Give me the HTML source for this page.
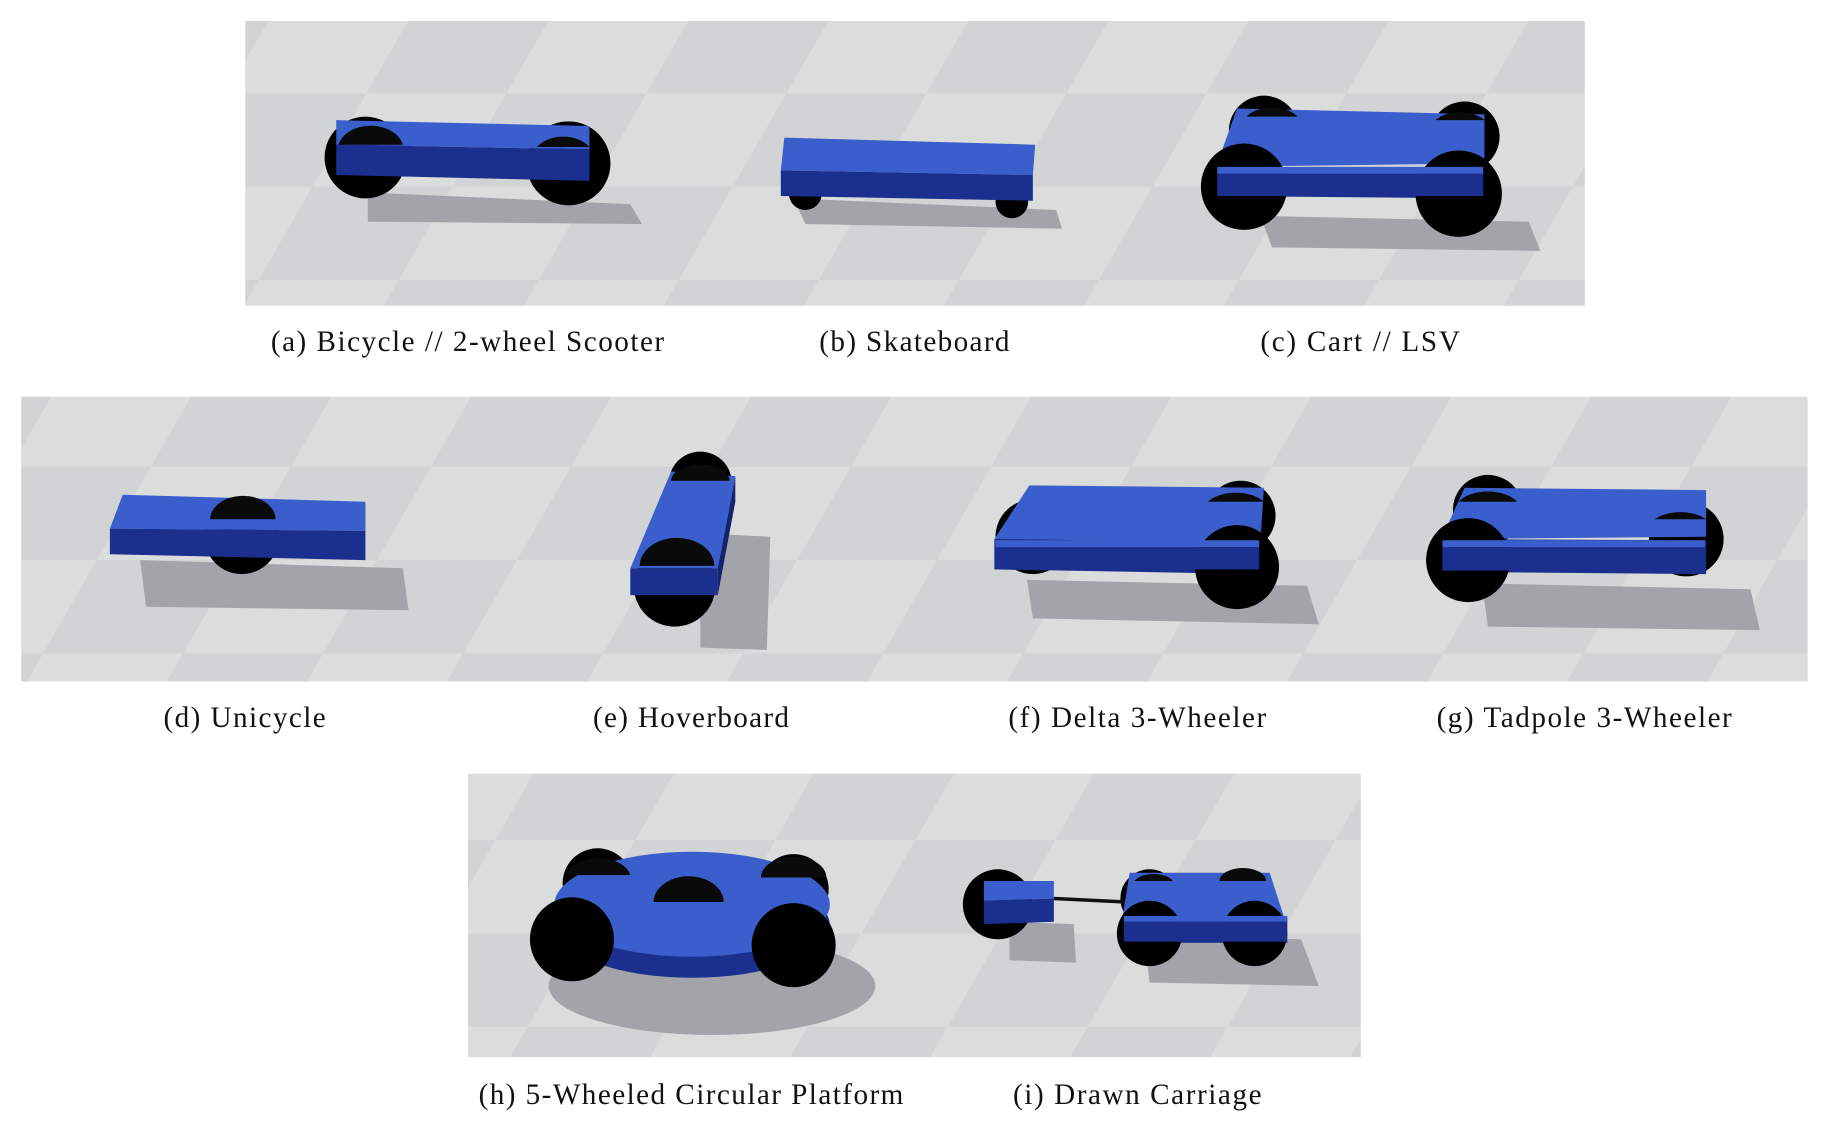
<!DOCTYPE html>
<html><head><meta charset="utf-8"><style>
html,body{margin:0;padding:0;background:#fff;}
svg{display:block}
text{font-family:"Liberation Serif",serif;font-size:25px;fill:#111}
</style></head><body>
<svg width="1830" height="1126" viewBox="0 0 1568 965" xmlns="http://www.w3.org/2000/svg">
<defs>
<pattern id="chk" width="240" height="160" patternUnits="userSpaceOnUse" patternTransform="skewX(-30)">
<rect width="240" height="160" fill="#d2d3d4"/>
<rect width="120" height="80" fill="#dbdcdc"/>
<rect x="120" y="80" width="120" height="80" fill="#dbdcdc"/>
</pattern>
</defs>
<rect x="210" y="18" width="1148" height="244" fill="url(#chk)"/>
<rect x="18" y="340" width="1531" height="244" fill="url(#chk)"/>
<rect x="401" y="663" width="765" height="243" fill="url(#chk)"/>
<g fill="#a2a4a9">
<polygon points="315,165 540,175 550,192 315,190"/>
<polygon points="680,170 905,180 910,196 690,192"/>
<polygon points="1080,185 1310,190 1320,215 1090,212"/>
<polygon points="120,480 345,487 350,523 125,520"/>
<polygon points="600,457 660,460 657,557 600,555"/>
<polygon points="880,497 1120,502 1130,535 885,530"/>
<polygon points="1270,500 1500,505 1508,540 1275,537"/>
<ellipse cx="610" cy="845" rx="140" ry="42"/>
<polygon points="865,790 920,792 922,825 865,823"/>
<polygon points="980,800 1115,805 1130,845 985,842"/>
</g>
<g fill="#000">
<circle cx="313" cy="135" r="35"/><circle cx="487" cy="140" r="36"/>
<circle cx="690" cy="166" r="14"/><circle cx="867" cy="173" r="14"/>
<circle cx="1083" cy="112" r="30"/><circle cx="1255" cy="117" r="30"/>
<circle cx="207" cy="460" r="32"/>
<circle cx="600" cy="414" r="27"/><circle cx="578" cy="502" r="35"/>
<circle cx="1063" cy="442" r="30"/><circle cx="885" cy="460" r="32"/>
<circle cx="1275" cy="437" r="30"/><circle cx="1445" cy="462" r="32"/>
<circle cx="512" cy="757" r="30"/><circle cx="680" cy="762" r="30"/><circle cx="590" cy="772" r="25"/>
<circle cx="855" cy="775" r="30"/>
<circle cx="985" cy="770" r="25"/><circle cx="1065" cy="770" r="25"/>
</g>
<g>
<polygon points="288,103 505,108 505,128 288,124" fill="#3a5fcd"/>
<polygon points="288,124 505,128 505,155 288,150" fill="#1b2f8e"/>
<polygon points="672,118 887,124 885,150 669,146" fill="#3a5fcd"/>
<polygon points="669,146 885,150 885,172 669,168" fill="#1b2f8e"/>
<polygon points="1060,93 1272,98 1272,140 1042,143" fill="#3a5fcd"/>
<polygon points="1042,143 1272,145 1272,170 1042,168" fill="#1b2f8e"/>
<polygon points="105,424 313,430 313,455 94,453" fill="#3a5fcd"/>
<polygon points="94,453 313,455 313,480 94,475" fill="#1b2f8e"/>
<polygon points="575,404 630,408 615,487 540,487" fill="#3a5fcd"/>
<polygon points="540,487 615,487 615,510 540,510" fill="#1b2f8e"/>
<polygon points="615,487 630,408 630,430 615,510" fill="#14236e"/>
<polygon points="882,416 1083,418 1080,465 852,462" fill="#3a5fcd"/>
<polygon points="852,462 1080,465 1080,492 852,488" fill="#1b2f8e"/>
<polygon points="1255,418 1462,420 1462,460 1235,462" fill="#3a5fcd"/>
<polygon points="1235,462 1462,463 1462,492 1235,490" fill="#1b2f8e"/>
<ellipse cx="593" cy="793" rx="118" ry="45" fill="#1b2f8e"/>
<ellipse cx="593" cy="775" rx="118" ry="45" fill="#3a5fcd"/>
<polygon points="843,755 903,755 903,770 843,772" fill="#3a5fcd"/>
<polygon points="843,772 903,770 903,790 843,792" fill="#1b2f8e"/>
<line x1="903" y1="770" x2="965" y2="773" stroke="#111" stroke-width="3"/>
<polygon points="968,748 1088,748 1100,785 962,785" fill="#3a5fcd"/>
<polygon points="962,785 1103,785 1103,808 962,808" fill="#1b2f8e"/>
</g>
<!-- wheel caps on top faces -->
<g fill="#0a0a0a">
<path d="M290,124 A28,20 0 0 1 345,124 Z"/>
<path d="M460,126 A27,20 0 0 1 505,126 Z"/>
<path d="M1068,100 A25,15 0 0 1 1112,100 Z"/>
<path d="M1230,103 A25,15 0 0 1 1272,103 Z"/>
<path d="M180,445 A28,20 0 0 1 236,445 Z"/>
<path d="M575,412 A25,14 0 0 1 625,412 Z"/>
<path d="M548,485 A32,24 0 0 1 612,485 Z"/>
<path d="M1035,430 A28,16 0 0 1 1083,430 Z"/>
<path d="M1250,430 A28,16 0 0 1 1300,430 Z"/>
<path d="M1418,445 A28,16 0 0 1 1462,445 Z"/>
<path d="M485,750 A28,18 0 0 1 540,750 Z"/>
<path d="M652,752 A28,18 0 0 1 708,752 Z"/>
<path d="M560,773 A30,22 0 0 1 620,773 Z"/>
<path d="M972,755 A18,10 0 0 1 1005,755 Z"/>
<path d="M1045,755 A18,10 0 0 1 1085,755 Z"/>
</g>
<g fill="#000">
<circle cx="1066" cy="160" r="37"/><circle cx="1250" cy="166" r="37"/>
<circle cx="1060" cy="486" r="36"/><circle cx="1258" cy="480" r="36"/>
<circle cx="490" cy="805" r="36"/><circle cx="680" cy="810" r="36"/>
<circle cx="985" cy="800" r="28"/><circle cx="1075" cy="800" r="28"/>
</g>
<g fill="#3a5fcd">
<rect x="1043" y="143" width="228" height="6"/>
<rect x="853" y="463" width="226" height="6"/>
<rect x="1236" y="463" width="225" height="6"/>
<rect x="963" y="785" width="140" height="5"/>
</g>
<g fill="#1b2f8e">
<rect x="1043" y="149" width="228" height="19"/>
<rect x="853" y="469" width="226" height="19"/>
<rect x="1236" y="469" width="225" height="20"/>
<rect x="963" y="790" width="140" height="17"/>
</g>
<text x="232" y="301" textLength="337" lengthAdjust="spacing">(a) Bicycle // 2-wheel Scooter</text>
<text x="702" y="301" textLength="163" lengthAdjust="spacing">(b) Skateboard</text>
<text x="1080" y="301" textLength="171" lengthAdjust="spacing">(c) Cart // LSV</text>
<text x="140" y="623" textLength="139" lengthAdjust="spacing">(d) Unicycle</text>
<text x="508" y="623" textLength="168" lengthAdjust="spacing">(e) Hoverboard</text>
<text x="864" y="623" textLength="221" lengthAdjust="spacing">(f) Delta 3-Wheeler</text>
<text x="1231" y="623" textLength="253" lengthAdjust="spacing">(g) Tadpole 3-Wheeler</text>
<text x="410" y="946" textLength="364" lengthAdjust="spacing">(h) 5-Wheeled Circular Platform</text>
<text x="868" y="946" textLength="213" lengthAdjust="spacing">(i) Drawn Carriage</text>
</svg>
</body></html>
